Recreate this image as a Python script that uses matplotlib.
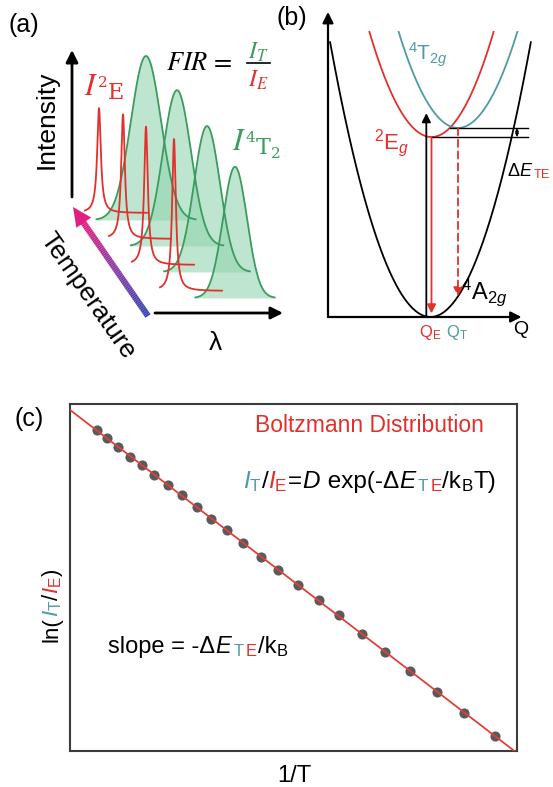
import numpy as np
import matplotlib
matplotlib.use('Agg')
import matplotlib.pyplot as plt
from matplotlib.collections import LineCollection
from matplotlib.colors import LinearSegmentedColormap
from matplotlib.patches import Polygon

plt.rcParams['font.family'] = ['Liberation Sans', 'DejaVu Sans']
plt.rcParams['mathtext.fontset'] = 'custom'
plt.rcParams['mathtext.rm'] = 'Liberation Sans'
plt.rcParams['mathtext.it'] = 'Liberation Sans:italic'
plt.rcParams['mathtext.bf'] = 'Liberation Sans:bold'

RED = '#e3302d'
TEAL = '#4e9ba6'
GREEN = '#3b9c5d'
FILLG = '#93d5b0'

# ---- (a) four emission spectra, hot (back) -> cold (front)
e_peak = [0.69, 0.82, 0.91, 1.0]      # 2E sharp line, relative height
t_peak = [1.0, 0.95, 0.89, 0.80]      # 4T2 broad band, relative height
e_shift = [0, -1, -3, 0]              # line position inside each spectrum
t_shift = [47, 53, 58, 61]
t_width = [15, 14, 13, 12]

# ---- (b) configurational coordinate wells: (Q0, E0)
wells = {'A': (0.495, 0.0), 'E': (0.50, 0.596), 'T': (0.628, 0.626)}
curv = 3.87

# ---- (c) ln(IT/IE) vs 1/T (arbitrary units)
inv_T = [0.060, 0.082, 0.108, 0.134, 0.160, 0.188, 0.220, 0.250, 0.284, 0.315,
         0.351, 0.388, 0.428, 0.466, 0.510, 0.556, 0.602, 0.653, 0.705, 0.761,
         0.821, 0.882, 0.951]
ln_fir = [0.925, 0.901, 0.877, 0.848, 0.824, 0.795, 0.766, 0.738, 0.704, 0.670,
          0.637, 0.598, 0.560, 0.521, 0.478, 0.435, 0.391, 0.338, 0.286, 0.231,
          0.170, 0.110, 0.042]

W, H = 553, 787
fig = plt.figure(figsize=(W / 100, H / 100), dpi=100)
ax = fig.add_axes([0, 0, 1, 1])
ax.set_xlim(0, W)
ax.set_ylim(H, 0)
ax.axis('off')
rend = fig.canvas.get_renderer()


def rich(x, y, parts, size, rotation=0):
    # multi-colour text, pieces laid one after another on a common baseline
    for s, c in parts:
        t = ax.text(x, y, s, color=c, fontsize=size, rotation=rotation,
                    rotation_mode='anchor', ha='left', va='baseline')
        bb = t.get_window_extent(renderer=rend)
        if rotation:
            y -= bb.height
        else:
            x += bb.width


def serif_label(x, y, parts, color):
    # (text, size, vertical shift in px) pieces in a serif face
    for s, size, dy in parts:
        t = ax.text(x, y + dy, s, color=color, fontsize=size, ha='left', va='baseline',
                    math_fontfamily='stix', family='DejaVu Serif')
        x += t.get_window_extent(renderer=rend).width


def arrow(a, p0, p1, color='k', lw=1.5, ms=15, ls='-', style='-|>'):
    a.annotate('', xy=p1, xytext=p0, annotation_clip=False,
               arrowprops=dict(arrowstyle=style, color=color, lw=lw, ls=ls,
                               mutation_scale=ms, shrinkA=0, shrinkB=0))


# ================= panel (a)
for i in range(4):
    x0, y0 = 99 + 25 * i, 213 + 26 * i
    # broad 4T2 band
    c = x0 + t_shift[i]
    xg = np.linspace(c - 3.3 * t_width[i], c + 3.3 * t_width[i], 200)
    yg = y0 + 7 - 164 * t_peak[i] * np.exp(-(xg - c) ** 2 / (2 * t_width[i] ** 2))
    ax.fill_between(xg, yg, y0 + 7, color=FILLG, alpha=0.6, lw=0)
    ax.plot(xg, yg, color=GREEN, lw=1.3)
    # sharp 2E line
    c = x0 + e_shift[i]
    xr = np.linspace(c - 14, c + 48, 400)
    g = 2.2
    yr = y0 - 152 * e_peak[i] * g ** 2 / ((xr - c) ** 2 + g ** 2)
    ax.plot(xr, yr, color=RED, lw=1.3)

arrow(ax, (72, 197), (72, 50), lw=2, ms=18)
arrow(ax, (155, 313), (283, 313), lw=2, ms=18)

cmap = LinearSegmentedColormap.from_list('tgrad', ['#3445b2', '#8b3aa6', '#e21f80'])
n = 60
tx = np.linspace(148, 83, n + 1)
ty = np.linspace(316, 222, n + 1)
segs = [[(tx[k], ty[k]), (tx[k + 1], ty[k + 1])] for k in range(n)]
ax.add_collection(LineCollection(segs, colors=cmap(np.linspace(0, 1, n)), linewidths=4.5))
tip = np.array([73.0, 207.0])
d = tip - np.array([148.0, 316.0])
d /= np.hypot(*d)
pp = np.array([-d[1], d[0]])
base = tip - d * 19
ax.add_patch(Polygon([tip, base + pp * 9, base - pp * 9], closed=True, color='#e21f80', lw=0))

ax.text(8, 25, '(a)', fontsize=18, va='center', ha='left')
ax.text(47, 120, 'Intensity', fontsize=19, rotation=90, ha='center', va='center')
ax.text(88, 296, 'Temperature', fontsize=19, rotation=-55, ha='center', va='center',
        rotation_mode='anchor')
ax.text(215, 343, 'λ', fontsize=19, ha='center', va='center')
serif_label(84, 95, [(r'$I$', 22, 0), ('2', 11, -8), ('E', 16, 4)], RED)
serif_label(232, 150, [(r'$I$', 22, 0), ('4', 11, -8), ('T', 16, 4), ('2', 11, 8)], GREEN)
ax.text(166, 63, r'$FIR\,=$', fontsize=19, va='center', math_fontfamily='stix')
ax.plot([247, 270], [63, 63], color='k', lw=1.2)
ax.text(258, 52, r'$I_T$', fontsize=17, color=GREEN, ha='center', va='center', math_fontfamily='stix')
ax.text(258, 80, r'$I_E$', fontsize=17, color=RED, ha='center', va='center', math_fontfamily='stix')

# ================= panel (b)
axb = fig.add_axes([328 / W, 1 - 317 / H, 207 / W, 302 / H])
axb.set_xlim(0, 1)
axb.set_ylim(0, 1)
axb.axis('off')
axb.patch.set_alpha(0)
for key, col, emax in [('A', 'k', 0.91), ('E', RED, 0.944), ('T', TEAL, 0.944)]:
    q0, e0 = wells[key]
    dq = np.sqrt((emax - e0) / curv)
    q = np.linspace(q0 - dq, q0 + dq, 300)
    axb.plot(q, e0 + curv * (q - q0) ** 2, color=col, lw=1.3, clip_on=False)

arrow(axb, (0, 0), (0, 1.01), lw=1.6, ms=16)
arrow(axb, (0, 0), (0.935, 0), lw=1.6, ms=16)
qE, eE = wells['E']
qT, eT = wells['T']
qA, eA = wells['A']
axb.plot([qT - 0.04, 0.966], [eT, eT], color='k', lw=1.0)
axb.plot([qE, 0.966], [eE, eE], color='k', lw=1.0)
arrow(axb, (0.913, eE), (0.913, eT), lw=0.8, ms=5, style='<|-|>')
arrow(axb, (qE - 0.025, 0), (qE - 0.025, 0.675), lw=1.3, ms=13)
arrow(axb, (qE, eE), (qE, 0.012), color=RED, lw=1.3, ms=13)
arrow(axb, (qT, eT), (qT, eA + curv * (qT - qA) ** 2), color=RED, lw=1.3, ms=13, ls=(0, (4, 2.5)))

ax.text(277, 18, '(b)', fontsize=18, va='center', ha='left')
ax.text(428, 55, r'$^{4}\mathrm{T}_{2g}$', fontsize=15, color=TEAL, ha='center', va='center')
ax.text(392, 143, r'$^{2}\mathrm{E}_{g}$', fontsize=16, color=RED, ha='center', va='center')
ax.text(461, 292, r'$^{4}\mathrm{A}_{2g}$', fontsize=17, color='k', ha='left', va='center')
rich(507, 176, [('Δ', 'k'), (r'$E$', 'k'), (r'${}_\mathrm{TE}$', RED)], 13)
ax.text(521, 330, 'Q', fontsize=14, ha='center', va='center')
ax.text(430, 333, r'$\mathrm{Q}_\mathrm{E}$', fontsize=12, color=RED, ha='center', va='center')
ax.text(457, 333, r'$\mathrm{Q}_\mathrm{T}$', fontsize=12, color=TEAL, ha='center', va='center')

# ================= panel (c)
axc = fig.add_axes([70 / W, 1 - 751 / H, 447 / W, 347 / H])
axc.set_xlim(0, 1)
axc.set_ylim(0, 1)
axc.set_xticks([])
axc.set_yticks([])
axc.patch.set_alpha(0)
for sp in axc.spines.values():
    sp.set_color('#3c3c3c')
    sp.set_linewidth(1.5)
axc.plot(inv_T, ln_fir, 'o', color='#5a5a5a', ms=7.3, mec='none', zorder=2)
slope, icpt = np.polyfit(inv_T, ln_fir, 1)
xl = np.array([0, 1])
axc.plot(xl, icpt + slope * xl, color='#e0403c', lw=1.3, zorder=3)

ax.text(15, 419, '(c)', fontsize=18, va='center', ha='left')
ax.text(369, 425, 'Boltzmann Distribution', fontsize=16.5, color=RED, ha='center', va='center')
rich(243, 488, [(r'$I_\mathrm{T}$', TEAL), ('/', 'k'), (r'$I_\mathrm{E}$', RED), ('=', 'k'),
                (r'$D$', 'k'), (' exp(-Δ', 'k'), (r'$E$', 'k'), (r'${}_\mathrm{T}$', TEAL),
                (r'${}_\mathrm{E}$', RED), ('/k', 'k'), (r'${}_\mathrm{B}$', 'k'), ('T)', 'k')], 17.5)
rich(108, 653, [('slope = -Δ', 'k'), (r'$E$', 'k'), (r'${}_\mathrm{T}$', TEAL),
                (r'${}_\mathrm{E}$', RED), ('/k', 'k'), (r'${}_\mathrm{B}$', 'k')], 17)
rich(58, 642, [('ln(', 'k'), (r'$I_\mathrm{T}$', TEAL), ('/', 'k'), (r'$I_\mathrm{E}$', RED),
               (')', 'k')], 16, rotation=90)
ax.text(294, 776, '1/T', fontsize=17, ha='center', va='center')

fig.savefig('out.png', dpi=100)
